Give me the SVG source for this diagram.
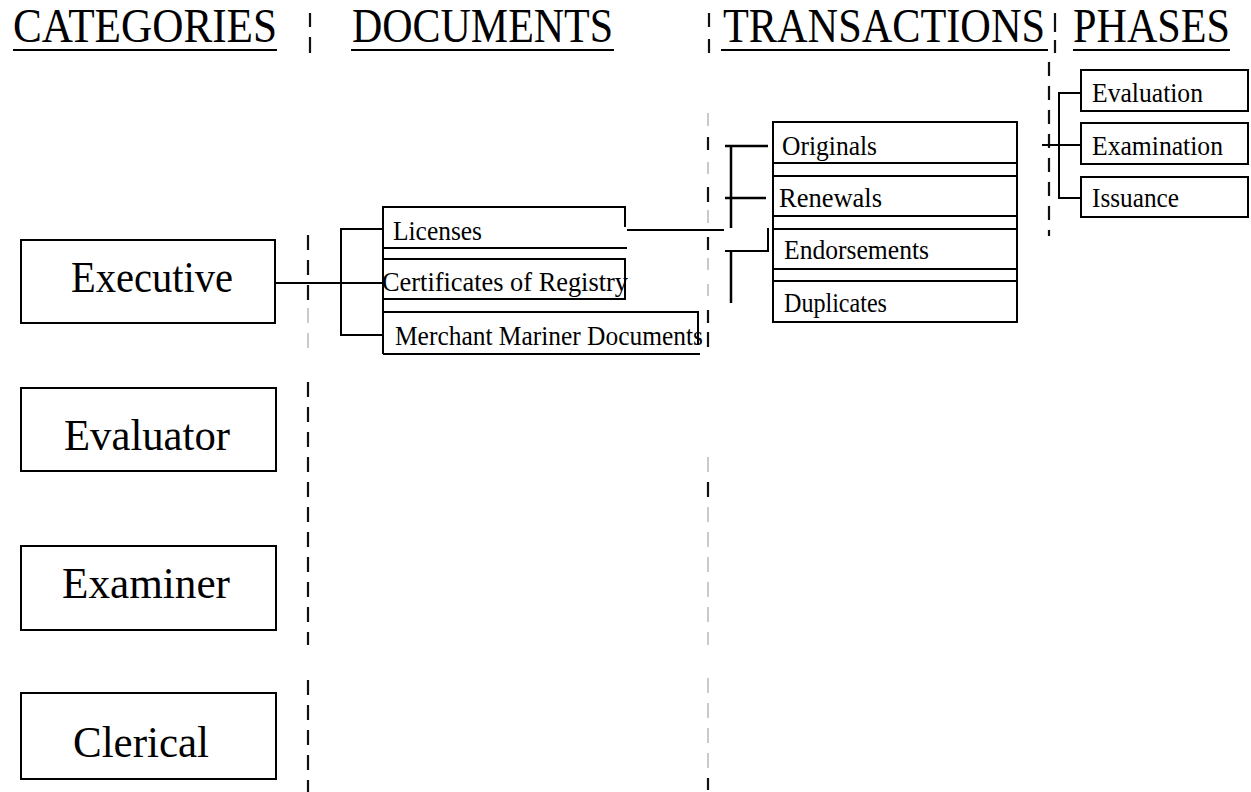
<svg xmlns="http://www.w3.org/2000/svg" width="1251" height="792" viewBox="0 0 1251 792">
<style>
  text { font-family: "Liberation Serif", "Times New Roman", serif; fill: #000; }
  .hdr { font-size: 48px; }
  .cat { font-size: 45px; }
  .sm { font-size: 26.5px; }
  .box { fill: none; stroke: #000; stroke-width: 2; }
  .ln { fill: none; stroke: #000; stroke-width: 2; }
  .thk { fill: none; stroke: #000; stroke-width: 2.5; }
  .dk { fill: none; stroke: #111; stroke-width: 2.2; }
  .gr { fill: none; stroke: #bdbdbd; stroke-width: 1.6; }
  .ul { stroke: #000; stroke-width: 2; }
</style>
<rect width="1251" height="792" fill="#fff"/>

<g id="headers">
  <text class="hdr" x="13" y="42" textLength="264" lengthAdjust="spacingAndGlyphs">CATEGORIES</text>
  <line class="ul" x1="13" y1="50" x2="277" y2="50"/>
  <text class="hdr" x="352" y="42" textLength="261" lengthAdjust="spacingAndGlyphs">DOCUMENTS</text>
  <line class="ul" x1="351" y1="50" x2="614" y2="50"/>
  <text class="hdr" x="723" y="42" textLength="322" lengthAdjust="spacingAndGlyphs">TRANSACTIONS</text>
  <line class="ul" x1="721" y1="50" x2="1048" y2="50"/>
  <text class="hdr" x="1073" y="42" textLength="157" lengthAdjust="spacingAndGlyphs">PHASES</text>
  <line class="ul" x1="1073" y1="50" x2="1230" y2="50"/>
</g>

<g id="separators">
  <path class="dk" d="M310 13V27M310 37V53M709 13V27M709 39V53M1055 13V32M1055 40V53"/>
  <path class="dk" d="M308 235V250M308 260V275M308 285V300"/>
  <path class="gr" d="M308 308V323M308 333V348"/>
  <path class="dk" d="M308 382V645" stroke-dasharray="15 10"/>
  <path class="dk" d="M308 680V792" stroke-dasharray="15 10"/>
  <path class="gr" d="M708 113V126M708 162V174M708 210V223M708 258V270M708 284V296"/>
  <path class="dk" d="M708 137V150M708 187V202M708 237V250M708 310V323M708 332V347"/>
  <path class="gr" d="M708 457V645" stroke-dasharray="15 10"/>
  <path class="dk" d="M708 482V497"/>
  <path class="gr" d="M708 678V778" stroke-dasharray="15 10"/>
  <path class="dk" d="M708 778V790"/>
  <path class="dk" d="M1049 62V236" stroke-dasharray="14 10"/>
</g>

<g id="connectors">
  <path class="ln" d="M275 283H383"/>
  <path class="ln" d="M383 229H341V335H383"/>
  <path class="ln" d="M627 230H724"/>
  <path class="thk" d="M725 146H768M731 146V228M725 198H766"/>
  <path class="thk" d="M731 251V303"/>
  <path class="ln" d="M725 251H768V228"/>
  <path class="ln" d="M1081 93H1059V198H1081M1042 145H1081"/>
</g>

<g id="node-executive">
  <rect class="box" x="21" y="240" width="254" height="83"/>
  <text class="cat" x="71" y="292" textLength="162" lengthAdjust="spacingAndGlyphs">Executive</text>
</g>
<g id="node-evaluator">
  <rect class="box" x="21" y="388" width="255" height="83"/>
  <text class="cat" x="64" y="450" textLength="166" lengthAdjust="spacingAndGlyphs">Evaluator</text>
</g>
<g id="node-examiner">
  <rect class="box" x="21" y="546" width="255" height="84"/>
  <text class="cat" x="62" y="598" textLength="168" lengthAdjust="spacingAndGlyphs">Examiner</text>
</g>
<g id="node-clerical">
  <rect class="box" x="21" y="693" width="255" height="86"/>
  <text class="cat" x="73" y="757" textLength="136" lengthAdjust="spacingAndGlyphs">Clerical</text>
</g>

<g id="node-licenses">
  <path class="box" d="M625 227V207H383V248H627"/>
  <text class="sm" x="393" y="240" textLength="89" lengthAdjust="spacingAndGlyphs">Licenses</text>
</g>
<g id="node-certificates">
  <rect class="box" x="383" y="259" width="242" height="40"/>
  <text class="sm" x="382" y="291" textLength="246" lengthAdjust="spacingAndGlyphs">Certificates of Registry</text>
</g>
<g id="node-merchant">
  <path class="box" d="M698 345V312H384M383 354H700"/>
  <text class="sm" x="395" y="345" textLength="308" lengthAdjust="spacingAndGlyphs">Merchant Mariner Documents</text>
</g>
<path class="box" d="M383 207V354"/>

<g id="node-originals">
  <rect class="box" x="773" y="122" width="244" height="41"/>
  <text class="sm" x="782" y="155" textLength="95" lengthAdjust="spacingAndGlyphs">Originals</text>
</g>
<g id="node-renewals">
  <rect class="box" x="773" y="176" width="244" height="40"/>
  <text class="sm" x="779" y="207" textLength="103" lengthAdjust="spacingAndGlyphs">Renewals</text>
</g>
<g id="node-endorsements">
  <rect class="box" x="773" y="229" width="244" height="40"/>
  <text class="sm" x="784" y="259" textLength="145" lengthAdjust="spacingAndGlyphs">Endorsements</text>
</g>
<g id="node-duplicates">
  <rect class="box" x="773" y="281" width="244" height="41"/>
  <text class="sm" x="784" y="312" textLength="103" lengthAdjust="spacingAndGlyphs">Duplicates</text>
</g>
<path class="box" d="M773 122V322M1017 122V322"/>

<g id="node-evaluation">
  <rect class="box" x="1081" y="70" width="167" height="41"/>
  <text class="sm" x="1092" y="102" textLength="111" lengthAdjust="spacingAndGlyphs">Evaluation</text>
</g>
<g id="node-examination">
  <rect class="box" x="1081" y="123" width="167" height="41"/>
  <text class="sm" x="1092" y="155" textLength="131" lengthAdjust="spacingAndGlyphs">Examination</text>
</g>
<g id="node-issuance">
  <rect class="box" x="1081" y="177" width="167" height="40"/>
  <text class="sm" x="1092" y="207" textLength="87" lengthAdjust="spacingAndGlyphs">Issuance</text>
</g>
</svg>
